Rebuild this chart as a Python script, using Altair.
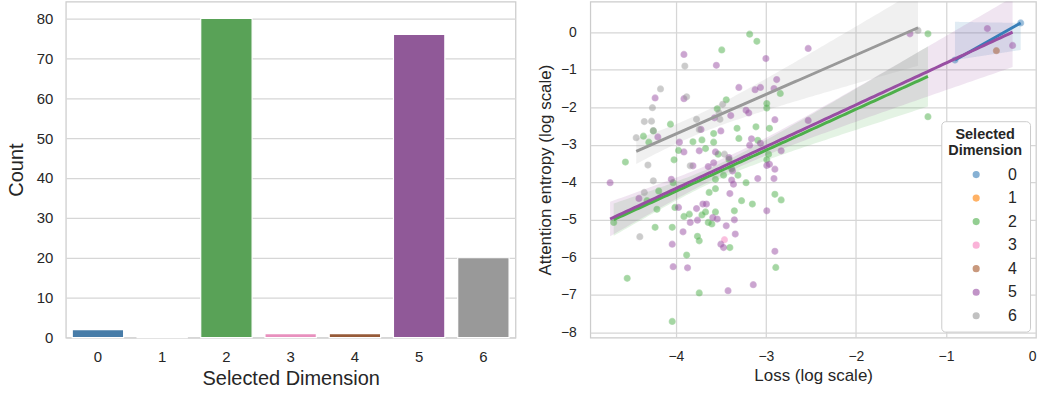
import colorsys
import numpy as np
import pandas as pd
import altair as alt

# ---------------- data ----------------
dims = ["0", "1", "2", "3", "4", "5", "6"]
counts = [2, 0, 80, 1, 1, 76, 20]
palette = ["#377eb8", "#ff7f00", "#4daf4a", "#f781bf", "#a65628", "#984ea3", "#999999"]

count_ticks = [0, 10, 20, 30, 40, 50, 60, 70, 80]
loss_ticks = [-4, -3, -2, -1, 0]
entropy_ticks = [0, -1, -2, -3, -4, -5, -6, -7, -8]

loss_0 = [-0.90, -0.17]
ent_0 = [-0.74, 0.25]

loss_2 = [-4.06, -4.36, -4.30, -4.56, -3.97, -4.02, -3.81, -4.03, -4.19, -4.32, -4.21, -4.01,
          -4.69, -3.91, -3.85, -4.23, -4.04, -4.25,
          -3.18, -3.10, -3.49, -2.84, -3.44, -3.54, -2.99, -2.99, -3.32, -3.11, -2.96,
          -3.58, -3.71, -3.58, -3.30, -3.09, -3.67, -3.53, -3.41, -3.47, -3.38, -3.31, -3.56,
          -3.22, -2.99, -2.97, -2.90, -2.83, -3.56, -3.63, -3.27, -3.15, -3.67, -3.56, -3.35,
          -3.71, -3.64, -3.60,
          -3.76, -3.74, -3.88, -4.54, -3.74, -4.04,
          -3.40, -2.89,
          -1.20, -1.20]
ent_2 = [-2.45, -2.77, -2.93, -3.46, -3.15, -3.40, -2.92, -4.01, -4.23, -4.49, -4.72, -4.67,
         -5.07, -4.91, -4.85, -5.20, -5.20, -2.63,
         -0.05, -0.24, -0.47, -1.63, -1.80, -2.04, -1.90, -2.02, -2.56, -2.52, -2.56,
         -2.70, -2.87, -2.93, -2.83, -2.88, -3.10, -3.25, -3.39, -3.81, -3.64, -3.81, -3.92,
         -4.01, -3.40, -3.25, -4.32, -4.47, -4.17, -4.27, -4.49, -4.58, -4.79, -4.79, -4.76,
         -4.87, -5.07, -5.11,
         -5.44, -5.56, -5.94, -6.56, -6.95, -7.71,
         -5.74, -6.27,
         -0.04, -2.25]

loss_3 = [-3.46]
ent_3 = [-5.53]

loss_4 = [-0.44]
ent_4 = [-0.49]

loss_5 = [-3.91, -4.23, -3.91,
          -4.73, -4.20, -3.96, -3.91, -3.81, -3.74, -4.05, -4.41, -3.97, -3.77, -3.84, -3.76, -3.92,
          -3.00, -2.53, -3.55, -3.30, -3.12, -3.06, -2.91, -2.88, -3.22, -3.19, -3.39, -3.57,
          -2.90, -2.53, -3.50, -3.72,
          -3.16, -3.18, -3.06, -3.56, -3.58, -3.64, -3.37, -3.38, -3.36, -3.09, -2.99, -2.96,
          -2.90, -2.91, -2.83, -3.40, -2.99, -3.70, -3.66, -3.59, -3.54, -3.35, -3.44, -3.34, -3.41,
          -4.04, -4.03, -3.87,
          -3.50, -3.47, -2.90, -3.14, -3.42,
          -1.40, -0.54, -0.26]
ent_5 = [-0.59, -1.75, -1.77,
         -4.01, -2.79, -2.93, -3.19, -3.56, -3.16, -3.92, -4.43, -4.67, -4.70, -5.07, -5.01, -5.32,
         -0.70, -0.43, -0.88, -1.47, -1.53, -1.47, -1.50, -1.26, -2.08, -2.15, -2.22, -2.28,
         -2.33, -2.35, -2.63, -2.59,
         -2.84, -3.01, -2.96, -3.19, -3.48, -3.58, -3.70, -3.94, -4.05, -3.90, -3.55, -3.52,
         -3.65, -3.90, -3.16, -4.30, -4.76, -4.58, -4.58, -4.94, -4.98, -5.00, -5.16, -5.38, -3.34,
         -5.65, -6.25, -6.28,
         -5.65, -5.74, -5.84, -6.73, -6.89,
         -0.04, 0.10, -0.35]

loss_6 = [-3.90, -4.17, -3.88, -4.26, -4.35, -4.27, -3.77, -3.48, -3.52, -3.51,
          -4.25, -4.44, -4.31, -3.84, -4.25, -4.35, -3.46, -4.40, -1.31, -3.74]
ent_6 = [-0.90, -1.51, -1.72, -2.01, -2.38, -2.37, -2.32, -1.92, -2.15, -2.32,
         -2.62, -2.81, -3.54, -3.56, -3.96, -4.27, -3.25, -5.45, 0.05, -2.59]

groups = {"0": (loss_0, ent_0), "2": (loss_2, ent_2), "3": (loss_3, ent_3),
          "4": (loss_4, ent_4), "5": (loss_5, ent_5), "6": (loss_6, ent_6)}

# ---------------- derived tables ----------------
def desaturate(hex_color, prop):
    r, g, b = (int(hex_color[i:i + 2], 16) / 255 for i in (1, 3, 5))
    h, l, s = colorsys.rgb_to_hls(r, g, b)
    r, g, b = colorsys.hls_to_rgb(h, l, s * prop)
    return "#%02x%02x%02x" % (round(r * 255), round(g * 255), round(b * 255))

bar_colors = [desaturate(c, 0.75) for c in palette]
bars_df = pd.DataFrame({"dim": dims, "count": counts})

rows = []
for d in dims:
    if d in groups:
        xs, ys = groups[d]
        for a, b in zip(xs, ys):
            rows.append({"dim": d, "loss": a, "entropy": b})
pts_df = pd.DataFrame(rows)

CI_MULT = 1.15  # half-width of the shaded band, in standard errors of the fitted mean

fit_rows = []
for d in dims:
    if d not in groups:
        continue
    xs, ys = np.array(groups[d][0]), np.array(groups[d][1])
    n = len(xs)
    if n < 2:
        continue
    grid = np.linspace(xs.min(), xs.max(), 100)
    b1, b0 = np.polyfit(xs, ys, 1)
    yhat = b0 + b1 * grid
    if n >= 3:
        res = ys - (b0 + b1 * xs)
        s = np.sqrt((res ** 2).sum() / (n - 2))
        sxx = ((xs - xs.mean()) ** 2).sum()
        se = s * np.sqrt(1 / n + (grid - xs.mean()) ** 2 / sxx)
        lo, hi = yhat - CI_MULT * se, yhat + CI_MULT * se
    else:
        fits = [yhat] + [yi * (1 + xi * grid) / (1 + xi ** 2) for xi, yi in zip(xs, ys)]
        lo, hi = np.min(fits, axis=0), np.max(fits, axis=0)
    for gx, gy, l_, h_ in zip(grid, yhat, lo, hi):
        fit_rows.append({"dim": d, "loss": gx, "fit": gy, "lo": l_, "hi": h_})
fit_df = pd.DataFrame(fit_rows)

FONT = "Liberation Sans"
TXT = "#262626"

# ---------------- left: bar chart ----------------
bars = alt.Chart(bars_df).mark_bar(stroke="white", strokeWidth=1.2).encode(
    x=alt.X("dim:N", sort=dims, title="Selected Dimension",
            scale=alt.Scale(paddingInner=0.2, paddingOuter=0.1),
            axis=alt.Axis(labelAngle=0, grid=False, labelFontSize=15, titleFontSize=20,
                          labelPadding=12, titlePadding=4, titleFontWeight="normal")),
    y=alt.Y("count:Q", title="Count",
            scale=alt.Scale(domain=[0, 84.2], nice=False),
            axis=alt.Axis(values=count_ticks, labelFontSize=15, titleFontSize=20,
                          labelPadding=13, titlePadding=10, titleFontWeight="normal")),
    color=alt.Color("dim:N", scale=alt.Scale(domain=dims, range=bar_colors), legend=None),
).properties(width=451, height=337)

# ---------------- right: scatter + regressions ----------------
xscale = alt.Scale(domain=[-4.95, 0.0], nice=False, zero=False)
yscale = alt.Scale(domain=[-8.14, 0.82], nice=False, zero=False)
cscale = alt.Scale(domain=dims, range=palette)

xax = alt.Axis(values=loss_ticks, labelFontSize=14, titleFontSize=17, labelPadding=12,
               titlePadding=4, titleFontWeight="normal")
yax = alt.Axis(values=entropy_ticks, labelFontSize=14, titleFontSize=17, labelPadding=14,
               titlePadding=6, titleFontWeight="normal")

leg = alt.Legend(orient="none", legendX=352, legendY=120,
                 fillColor="white", strokeColor="#cccccc", cornerRadius=4,
                 padding=7, titleFontSize=14.5, titleFontWeight="bold",
                 titleAnchor="middle", titleLineHeight=16, titlePadding=8,
                 labelFontSize=16, labelOffset=24, symbolOffset=15,
                 symbolType="circle", symbolSize=32, symbolOpacity=0.6,
                 rowPadding=7.6, labelColor=TXT, titleColor=TXT,
                 labelFont=FONT, titleFont=FONT)
ctitle = ["Selected", "Dimension"]

band = alt.Chart(fit_df).mark_area(opacity=0.15, clip=True).encode(
    x=alt.X("loss:Q", scale=xscale, axis=xax, title="Loss (log scale)"),
    y=alt.Y("lo:Q", scale=yscale, axis=yax, title="Attention entropy (log scale)"),
    y2="hi:Q",
    color=alt.Color("dim:N", scale=cscale, legend=leg, title=ctitle),
    detail="dim:N",
)

points = alt.Chart(pts_df).mark_circle(size=36, opacity=0.5, strokeWidth=1.2, strokeOpacity=0.7).encode(
    x=alt.X("loss:Q", scale=xscale, axis=xax, title="Loss (log scale)"),
    y=alt.Y("entropy:Q", scale=yscale, axis=yax, title="Attention entropy (log scale)"),
    color=alt.Color("dim:N", scale=cscale, legend=leg, title=ctitle),
    stroke=alt.Stroke("dim:N", scale=cscale, legend=None),
)

lines = alt.Chart(fit_df).mark_line(strokeWidth=3, clip=True).encode(
    x=alt.X("loss:Q", scale=xscale, axis=xax, title="Loss (log scale)"),
    y=alt.Y("fit:Q", scale=yscale, axis=yax, title="Attention entropy (log scale)"),
    color=alt.Color("dim:N", scale=cscale, legend=leg, title=ctitle),
    detail="dim:N",
)

right = alt.layer(band, points, lines).properties(width=447, height=337)

chart = alt.hconcat(bars, right, spacing=19).resolve_scale(color="independent").properties(
    padding={"left": 5, "top": 0, "right": 0, "bottom": 0}, background="white"
).configure_view(
    stroke="#cccccc", strokeWidth=1.25
).configure_axis(
    grid=True, gridColor="#d6d6d6", gridWidth=1.25, domain=False, ticks=False,
    labelFont=FONT, titleFont=FONT, labelColor=TXT, titleColor=TXT, titleFontWeight="normal"
).configure_legend(
    labelFont=FONT, titleFont=FONT
)

chart.save("out.html", embed_options={"renderer": "svg", "actions": False})
